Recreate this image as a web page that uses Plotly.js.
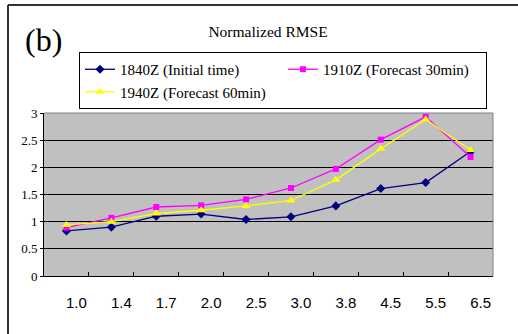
<!DOCTYPE html>
<html>
<head>
<meta charset="utf-8">
<script src="https://cdn.plot.ly/plotly-3.0.1.min.js"></script>
<style>html,body{margin:0;padding:0;background:#fff;}</style>
</head>
<body>
<div id="chart" style="width:518px;height:334px;"></div>
<script>
const categories = ["1.0","1.4","1.7","2.0","2.5","3.0","3.8","4.5","5.5","6.5"];
const initial1840 = [0.83,0.90,1.10,1.14,1.04,1.09,1.29,1.61,1.72,2.29];
const forecast1910 = [0.89,1.07,1.27,1.30,1.41,1.62,1.97,2.51,2.93,2.19];
const forecast1940 = [0.94,1.00,1.15,1.21,1.29,1.39,1.77,2.34,2.88,2.32];
const seriesNames = ["1840Z (Initial time)","1910Z (Forecast 30min)","1940Z (Forecast 60min)"];

const traces = [
  {x: categories, y: initial1840, name: seriesNames[0], type: "scatter", mode: "lines+markers",
   line: {color: "#000080", width: 1.3}, marker: {symbol: "diamond", size: 7, color: "#000080"}},
  {x: categories, y: forecast1910, name: seriesNames[1], type: "scatter", mode: "lines+markers",
   line: {color: "#ff00ff", width: 1.3}, marker: {symbol: "square", size: 6, color: "#ff00ff"}},
  {x: categories, y: forecast1940, name: seriesNames[2], type: "scatter", mode: "lines+markers",
   line: {color: "#ffff00", width: 1.3}, marker: {symbol: "triangle-up", size: 8, color: "#ffff00"}}
];

const L = 44, R = 493, T = 113, B = 276, W = 518, H = 334;
const px = v => (v - L) / (R - L);
const py = v => (B - v) / (B - T);

const layout = {
  width: W, height: H,
  margin: {l: L, r: W - R, t: T, b: H - B},
  paper_bgcolor: "#ffffff",
  plot_bgcolor: "#c0c0c0",
  title: {text: "Normalized RMSE", font: {family: "Liberation Serif", size: 15.5, color: "#000"},
          x: px(268), xref: "paper", xanchor: "center", y: 1 - 32 / H, yanchor: "middle"},
  showlegend: true,
  legend: {orientation: "h", x: px(79), y: py(52), xanchor: "left", yanchor: "top",
           bgcolor: "#fff", bordercolor: "#000", borderwidth: 1,
           font: {family: "Liberation Serif", size: 15, color: "#000"},
           entrywidth: 158, tracegroupgap: 0, itemwidth: 30},
  xaxis: {type: "category", range: [-0.5, 9.5], showgrid: false, zeroline: false,
          showline: true, linecolor: "#000", linewidth: 1,
          ticks: "inside", tickson: "boundaries", ticklen: 4, tickcolor: "#000",
          tickfont: {family: "Liberation Sans", size: 15, color: "#000"},
          ticklabelshift: 10, ticklabelstandoff: 13},
  yaxis: {range: [0, 3], dtick: 0.5, showgrid: true, gridcolor: "#000", gridwidth: 1,
          zeroline: false, showline: true, linecolor: "#000", linewidth: 1,
          ticks: "outside", ticklen: 3, tickcolor: "#000",
          tickfont: {family: "Liberation Serif", size: 13, color: "#000"}},
  annotations: [
    {text: "(b)", xref: "paper", yref: "paper", x: px(23), y: py(40), xanchor: "left", yanchor: "middle",
     showarrow: false, font: {family: "Liberation Serif", size: 32, color: "#000"}}
  ],
  shapes: [
    {type: "line", xref: "paper", yref: "paper", x0: px(8), x1: px(8), y0: py(5), y1: py(334), line: {color: "#333", width: 2}},
    {type: "line", xref: "paper", yref: "paper", x0: px(8), x1: px(518), y0: py(5), y1: py(5), line: {color: "#333", width: 2}},
    {type: "line", xref: "paper", yref: "paper", x0: 0, x1: 1, y0: 1, y1: 1, line: {color: "#808080", width: 1}, layer: "above"},
    {type: "line", xref: "paper", yref: "paper", x0: 1, x1: 1, y0: 0, y1: 1, line: {color: "#808080", width: 1}, layer: "above"}
  ]
};

Plotly.newPlot("chart", traces, layout, {displayModeBar: false, staticPlot: true});
</script>
</body>
</html>
